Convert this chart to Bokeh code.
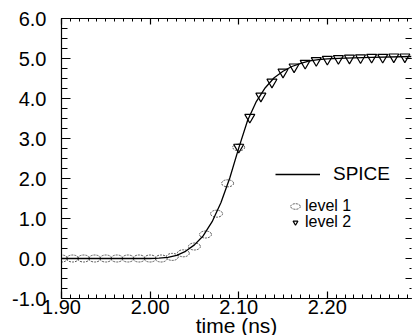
from bokeh.plotting import figure
from bokeh.models import (LinearAxis, Range1d, FixedTicker, NumeralTickFormatter,
                          CustomJSTickFormatter, Legend, LegendItem)
from bokeh.embed import file_html
from bokeh.resources import INLINE

# ---- data ----
spice_t = [1.90, 1.95, 2.00, 2.01, 2.02, 2.03, 2.04, 2.05, 2.06, 2.07, 2.08, 2.09,
           2.10, 2.11, 2.12, 2.13, 2.14, 2.15, 2.16, 2.17, 2.18, 2.19, 2.20, 2.22,
           2.25, 2.295]
spice_v = [0.0, 0.0, 0.0, 0.01, 0.03, 0.08, 0.18, 0.34, 0.57, 0.92, 1.40, 2.02,
           2.76, 3.45, 3.93, 4.27, 4.52, 4.68, 4.80, 4.88, 4.94, 4.97, 4.99, 5.01,
           5.03, 5.05]

level1_t = [1.9000, 1.9125, 1.9250, 1.9375, 1.9500, 1.9625, 1.9750, 1.9875, 2.0000,
            2.0125, 2.0250, 2.0375, 2.0500, 2.0625, 2.0750, 2.0875, 2.1000]
level1_v = [0.0, 0.0, 0.0, 0.0, 0.0, 0.0, 0.0, 0.0, 0.0,
            0.0, 0.04, 0.13, 0.30, 0.60, 1.12, 1.88, 2.78]

level2_t = [2.1000, 2.1125, 2.1250, 2.1375, 2.1500, 2.1625, 2.1750, 2.1875, 2.2000,
            2.2125, 2.2250, 2.2375, 2.2500, 2.2625, 2.2750, 2.2875]
level2_v = [2.78, 3.53, 4.06, 4.41, 4.66, 4.79, 4.88, 4.95, 4.98,
            5.00, 5.01, 5.02, 5.03, 5.03, 5.04, 5.04]

x_major = [1.90, 2.00, 2.10, 2.20]
x_minor = [round(1.90 + 0.01 * i, 2) for i in range(40)]
y_major = [-1.0, 0.0, 1.0, 2.0, 3.0, 4.0, 5.0, 6.0]
y_minor = [-1.0 + 0.25 * i for i in range(29)]
y_right_major = [-1.0 + 0.5 * i for i in range(15)]

FONT = "Liberation Sans"

p = figure(frame_width=350, frame_height=280,
           x_range=Range1d(1.90, 2.295), y_range=Range1d(-1.0, 6.0),
           x_axis_type=None, y_axis_type=None,
           output_backend="svg", toolbar_location=None,
           min_border_left=61, min_border_right=1, min_border_top=18, min_border_bottom=37)
p.grid.visible = False
p.outline_line_color = None
p.background_fill_color = "white"
p.border_fill_color = "white"

blank = CustomJSTickFormatter(code="return ''")

def style(ax, major_in, minor_in):
    ax.major_tick_in = major_in
    ax.major_tick_out = 0
    ax.minor_tick_in = minor_in
    ax.minor_tick_out = 0
    ax.axis_line_color = "black"
    ax.axis_line_width = 1.2
    ax.major_tick_line_color = "black"
    ax.minor_tick_line_color = "black"
    ax.major_tick_line_width = 1.2
    ax.major_label_text_font = FONT
    ax.major_label_text_color = "black"

bottom = LinearAxis(ticker=FixedTicker(ticks=x_major, minor_ticks=x_minor),
                    formatter=NumeralTickFormatter(format="0.00"),
                    axis_label="time (ns)")
style(bottom, 7, 4)
bottom.major_label_text_font_size = "20px"
bottom.major_label_standoff = 1
bottom.axis_label_text_font = FONT
bottom.axis_label_text_font_size = "21px"
bottom.axis_label_text_font_style = "normal"
bottom.axis_label_text_color = "black"
bottom.axis_label_standoff = -3
p.add_layout(bottom, "below")

top = LinearAxis(ticker=FixedTicker(ticks=x_major, minor_ticks=x_minor), formatter=blank)
style(top, 6, 3)
top.major_label_standoff = 0
p.add_layout(top, "above")

left = LinearAxis(ticker=FixedTicker(ticks=y_major, minor_ticks=y_minor),
                  formatter=NumeralTickFormatter(format="0.0"))
style(left, 9, 6)
left.major_label_text_font_size = "20px"
left.major_label_standoff = 15
p.add_layout(left, "left")

right = LinearAxis(ticker=FixedTicker(ticks=y_right_major, minor_ticks=y_minor), formatter=blank)
style(right, 6, 2)
right.axis_line_color = None
right.major_label_standoff = 0
p.add_layout(right, "right")

# ---- glyphs ----
r2 = p.scatter(level2_t, level2_v, marker="inverted_triangle", size=10,
               fill_color="white", line_color="black", line_width=1.2)
r1 = p.ellipse(x=level1_t, y=level1_v, width=12, height=7,
               width_units="screen", height_units="screen",
               fill_color=None, line_color="#555555", line_width=1, line_dash="2 1")
rs = p.line(spice_t, spice_v, line_color="black", line_width=1.3)

common = dict(padding=0, margin=0, spacing=0, border_line_color=None,
              background_fill_alpha=0, label_text_font=FONT, label_text_color="black")
leg1 = Legend(items=[LegendItem(label="SPICE", renderers=[rs])],
              location=(214, 113), glyph_width=45, glyph_height=20, label_height=20,
              label_standoff=13, label_text_font_size="19px", **common)
leg2a = Legend(items=[LegendItem(label="level 1", renderers=[r1])],
               location=(228, 83), glyph_width=12, glyph_height=14, label_height=14,
               label_standoff=4, label_text_font_size="16px", **common)
leg2b = Legend(items=[LegendItem(label="level 2", renderers=[r2])],
               location=(228, 67), glyph_width=12, glyph_height=14, label_height=14,
               label_standoff=4, label_text_font_size="16px", **common)
p.add_layout(leg1, "center")
p.add_layout(leg2a, "center")
p.add_layout(leg2b, "center")

open("out.html", "w").write(file_html(p, INLINE))
